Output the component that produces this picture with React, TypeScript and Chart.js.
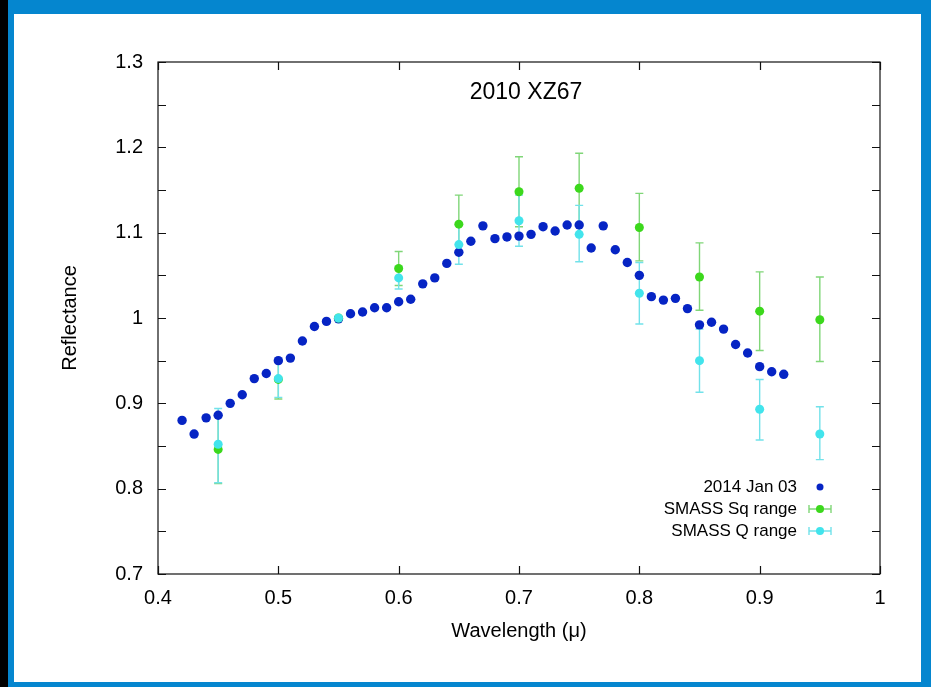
import React, { useEffect, useRef } from "react";
import { Chart, registerables } from "chart.js";

Chart.register(...registerables);

// ---- data ----
const titleText = "2010 XZ67";
const xTitle = "Wavelength (\u03bc)";
const yTitle = "Reflectance";
const legendLabels = ["2014 Jan 03", "SMASS Sq range", "SMASS Q range"];

const xTickValues = [0.4, 0.5, 0.6, 0.7, 0.8, 0.9, 1.0];
const yLabelValues = [0.7, 0.8, 0.9, 1.0, 1.1, 1.2, 1.3];
const yTickValues = [0.7, 0.75, 0.8, 0.85, 0.9, 0.95, 1.0, 1.05, 1.1, 1.15, 1.2, 1.25, 1.3];

const obsWave = [
  0.42, 0.43, 0.44, 0.45, 0.46, 0.47, 0.48, 0.49, 0.5, 0.51, 0.52, 0.53, 0.54, 0.55, 0.56, 0.57,
  0.58, 0.59, 0.6, 0.61, 0.62, 0.63, 0.64, 0.65, 0.66, 0.67, 0.68, 0.69, 0.7, 0.71, 0.72, 0.73,
  0.74, 0.75, 0.76, 0.77, 0.78, 0.79, 0.8, 0.81, 0.82, 0.83, 0.84, 0.85, 0.86, 0.87, 0.88, 0.89,
  0.9, 0.91, 0.92,
];
const obsRefl = [
  0.88, 0.864, 0.883, 0.886, 0.9, 0.91, 0.929, 0.935, 0.95, 0.953, 0.973, 0.99, 0.996, 0.999, 1.005, 1.007,
  1.012, 1.012, 1.019, 1.022, 1.04, 1.047, 1.064, 1.077, 1.09, 1.108, 1.093, 1.095, 1.096, 1.098, 1.107, 1.102,
  1.109, 1.109, 1.082, 1.108, 1.08, 1.065, 1.05, 1.025, 1.021, 1.023, 1.011, 0.992, 0.995, 0.987, 0.969, 0.959,
  0.943, 0.937, 0.934,
];

const smassWave = [0.45, 0.5, 0.55, 0.6, 0.65, 0.7, 0.75, 0.8, 0.85, 0.9, 0.95];
const sqMid = [0.846, 0.928, 1.0, 1.058, 1.11, 1.148, 1.152, 1.106, 1.048, 1.008, 0.998];
const sqLow = [0.806, 0.905, 1.0, 1.038, 1.076, 1.107, 1.111, 1.067, 1.009, 0.962, 0.949];
const sqHigh = [0.886, 0.95, 1.0, 1.078, 1.144, 1.189, 1.193, 1.146, 1.088, 1.054, 1.048];
const qMid = [0.852, 0.929, 1.0, 1.047, 1.086, 1.114, 1.098, 1.029, 0.95, 0.893, 0.864];
const qLow = [0.807, 0.907, 1.0, 1.034, 1.063, 1.084, 1.066, 0.993, 0.913, 0.857, 0.834];
const qHigh = [0.894, 0.951, 1.0, 1.06, 1.109, 1.144, 1.132, 1.065, 0.987, 0.928, 0.896];

// ---- styles ----
const FONT = "'Liberation Sans', Arial, Helvetica, sans-serif";
const BLUE = "#0624c4";
const GREEN = "#3cd81c";
const CYAN = "#42e4ec";
const GREEN_BAR = "#80d678";
const CYAN_BAR = "#72e2ea";

function drawErrBar(ctx: CanvasRenderingContext2D, x: number, y1: number, y2: number, color: string) {
  ctx.save();
  ctx.strokeStyle = color;
  ctx.lineWidth = 1.4;
  ctx.beginPath();
  ctx.moveTo(x, y1);
  ctx.lineTo(x, y2);
  ctx.moveTo(x - 4, y1);
  ctx.lineTo(x + 4, y1);
  ctx.moveTo(x - 4, y2);
  ctx.lineTo(x + 4, y2);
  ctx.stroke();
  ctx.restore();
}

const gnuplotPlugin = {
  id: "gnuplotLook",
  beforeDatasetsDraw(chart: any) {
    const ctx = chart.ctx;
    const xs = chart.scales.x;
    const ys = chart.scales.y;
    smassWave.forEach((w, i) => {
      const px = xs.getPixelForValue(w);
      if (sqHigh[i] !== sqLow[i]) drawErrBar(ctx, px, ys.getPixelForValue(sqLow[i]), ys.getPixelForValue(sqHigh[i]), GREEN_BAR);
    });
    smassWave.forEach((w, i) => {
      const px = xs.getPixelForValue(w);
      if (qHigh[i] !== qLow[i]) drawErrBar(ctx, px, ys.getPixelForValue(qLow[i]), ys.getPixelForValue(qHigh[i]), CYAN_BAR);
    });
  },
  afterDraw(chart: any) {
    const ctx: CanvasRenderingContext2D = chart.ctx;
    const { left, right, top, bottom } = chart.chartArea;
    const xs = chart.scales.x;
    const ys = chart.scales.y;
    ctx.save();
    ctx.strokeStyle = "#111";
    ctx.lineWidth = 1.2;
    ctx.strokeRect(left, top, right - left, bottom - top);
    ctx.beginPath();
    const tl = 8;
    xTickValues.forEach((v) => {
      const px = Math.round(xs.getPixelForValue(v)) + 0.5;
      ctx.moveTo(px, bottom);
      ctx.lineTo(px, bottom - tl);
      ctx.moveTo(px, top);
      ctx.lineTo(px, top + tl);
    });
    yTickValues.forEach((v) => {
      const py = Math.round(ys.getPixelForValue(v)) + 0.5;
      ctx.moveTo(left, py);
      ctx.lineTo(left + tl, py);
      ctx.moveTo(right, py);
      ctx.lineTo(right - tl, py);
    });
    ctx.stroke();

    // title inside plot
    ctx.fillStyle = "#000";
    ctx.font = `23px ${FONT}`;
    ctx.textAlign = "center";
    ctx.textBaseline = "middle";
    ctx.fillText(titleText, (left + right) / 2 + 7, top + 31);

    // legend
    ctx.font = `17px ${FONT}`;
    ctx.textAlign = "right";
    const tx = right - 83;
    const mx = right - 60;
    const rows = [bottom - 87, bottom - 65, bottom - 43];
    const colors = [BLUE, GREEN, CYAN];
    const bars = [null, GREEN_BAR, CYAN_BAR];
    legendLabels.forEach((lab, i) => {
      const y = rows[i];
      ctx.fillStyle = "#000";
      ctx.fillText(lab, tx, y);
      const bc = bars[i];
      if (bc) {
        ctx.strokeStyle = bc;
        ctx.lineWidth = 1.4;
        ctx.beginPath();
        ctx.moveTo(mx - 11, y);
        ctx.lineTo(mx + 11, y);
        ctx.moveTo(mx - 11, y - 4);
        ctx.lineTo(mx - 11, y + 4);
        ctx.moveTo(mx + 11, y - 4);
        ctx.lineTo(mx + 11, y + 4);
        ctx.stroke();
      }
      ctx.fillStyle = colors[i];
      ctx.beginPath();
      ctx.arc(mx, y, i === 0 ? 3.5 : 4, 0, Math.PI * 2);
      ctx.fill();
    });
    ctx.restore();
  },
};

function fmt(v: number) {
  return String(+Number(v).toFixed(2));
}

export default function App() {
  const ref = useRef<HTMLCanvasElement | null>(null);
  useEffect(() => {
    document.body.style.margin = "0";
    const canvas = ref.current;
    if (!canvas) return;
    const chart = new Chart(canvas, {
      type: "scatter",
      data: {
        datasets: [
          {
            label: legendLabels[2],
            data: smassWave.map((w, i) => ({ x: w, y: qMid[i] })),
            backgroundColor: CYAN,
            borderWidth: 0,
            pointRadius: 4.5,
            order: 0,
          },
          {
            label: legendLabels[1],
            data: smassWave.map((w, i) => ({ x: w, y: sqMid[i] })),
            backgroundColor: GREEN,
            borderWidth: 0,
            pointRadius: 4.5,
            order: 1,
          },
          {
            label: legendLabels[0],
            data: obsWave.map((w, i) => ({ x: w, y: obsRefl[i] })),
            backgroundColor: BLUE,
            borderWidth: 0,
            pointRadius: 4.7,
            order: 2,
          },
        ],
      },
      options: {
        animation: false,
        responsive: false,
        maintainAspectRatio: false,
        layout: { padding: { top: 62, right: 51, left: 0, bottom: 0 } },
        plugins: { legend: { display: false }, tooltip: { enabled: false }, title: { display: false } },
        scales: {
          x: {
            type: "linear",
            min: 0.4,
            max: 1.0,
            afterFit: (s: any) => {
              s.height = 113;
            },
            afterBuildTicks: (s: any) => {
              s.ticks = xTickValues.map((v) => ({ value: v }));
            },
            grid: { display: false, drawTicks: false },
            border: { display: false },
            ticks: { color: "#000", padding: 12, font: { family: FONT, size: 20 }, callback: (v: any) => fmt(v) },
            title: { display: true, text: xTitle, color: "#000", font: { family: FONT, size: 20 }, padding: { top: 0, bottom: 44 } },
          },
          y: {
            type: "linear",
            min: 0.7,
            max: 1.3,
            afterFit: (s: any) => {
              s.width = 158;
            },
            afterBuildTicks: (s: any) => {
              s.ticks = yLabelValues.map((v) => ({ value: v }));
            },
            grid: { display: false, drawTicks: false },
            border: { display: false },
            ticks: { color: "#000", padding: 15, font: { family: FONT, size: 20 }, callback: (v: any) => fmt(v) },
            title: { display: true, text: yTitle, color: "#000", font: { family: FONT, size: 20 }, padding: { top: 58, bottom: 0 } },
          },
        },
      },
      plugins: [gnuplotPlugin],
    });
    return () => chart.destroy();
  }, []);

  return (
    <div style={{ position: "absolute", left: 0, top: 0, width: 931, height: 687, background: "#000", overflow: "hidden" }}>
      <div style={{ position: "absolute", left: 8, top: 0, width: 923, height: 687, background: "#0586cf" }} />
      <div style={{ position: "absolute", left: 14, top: 14, width: 907, height: 668, background: "#fff" }} />
      <canvas ref={ref} width={931} height={687} style={{ position: "absolute", left: 0, top: 0, width: 931, height: 687 }} />
    </div>
  );
}
